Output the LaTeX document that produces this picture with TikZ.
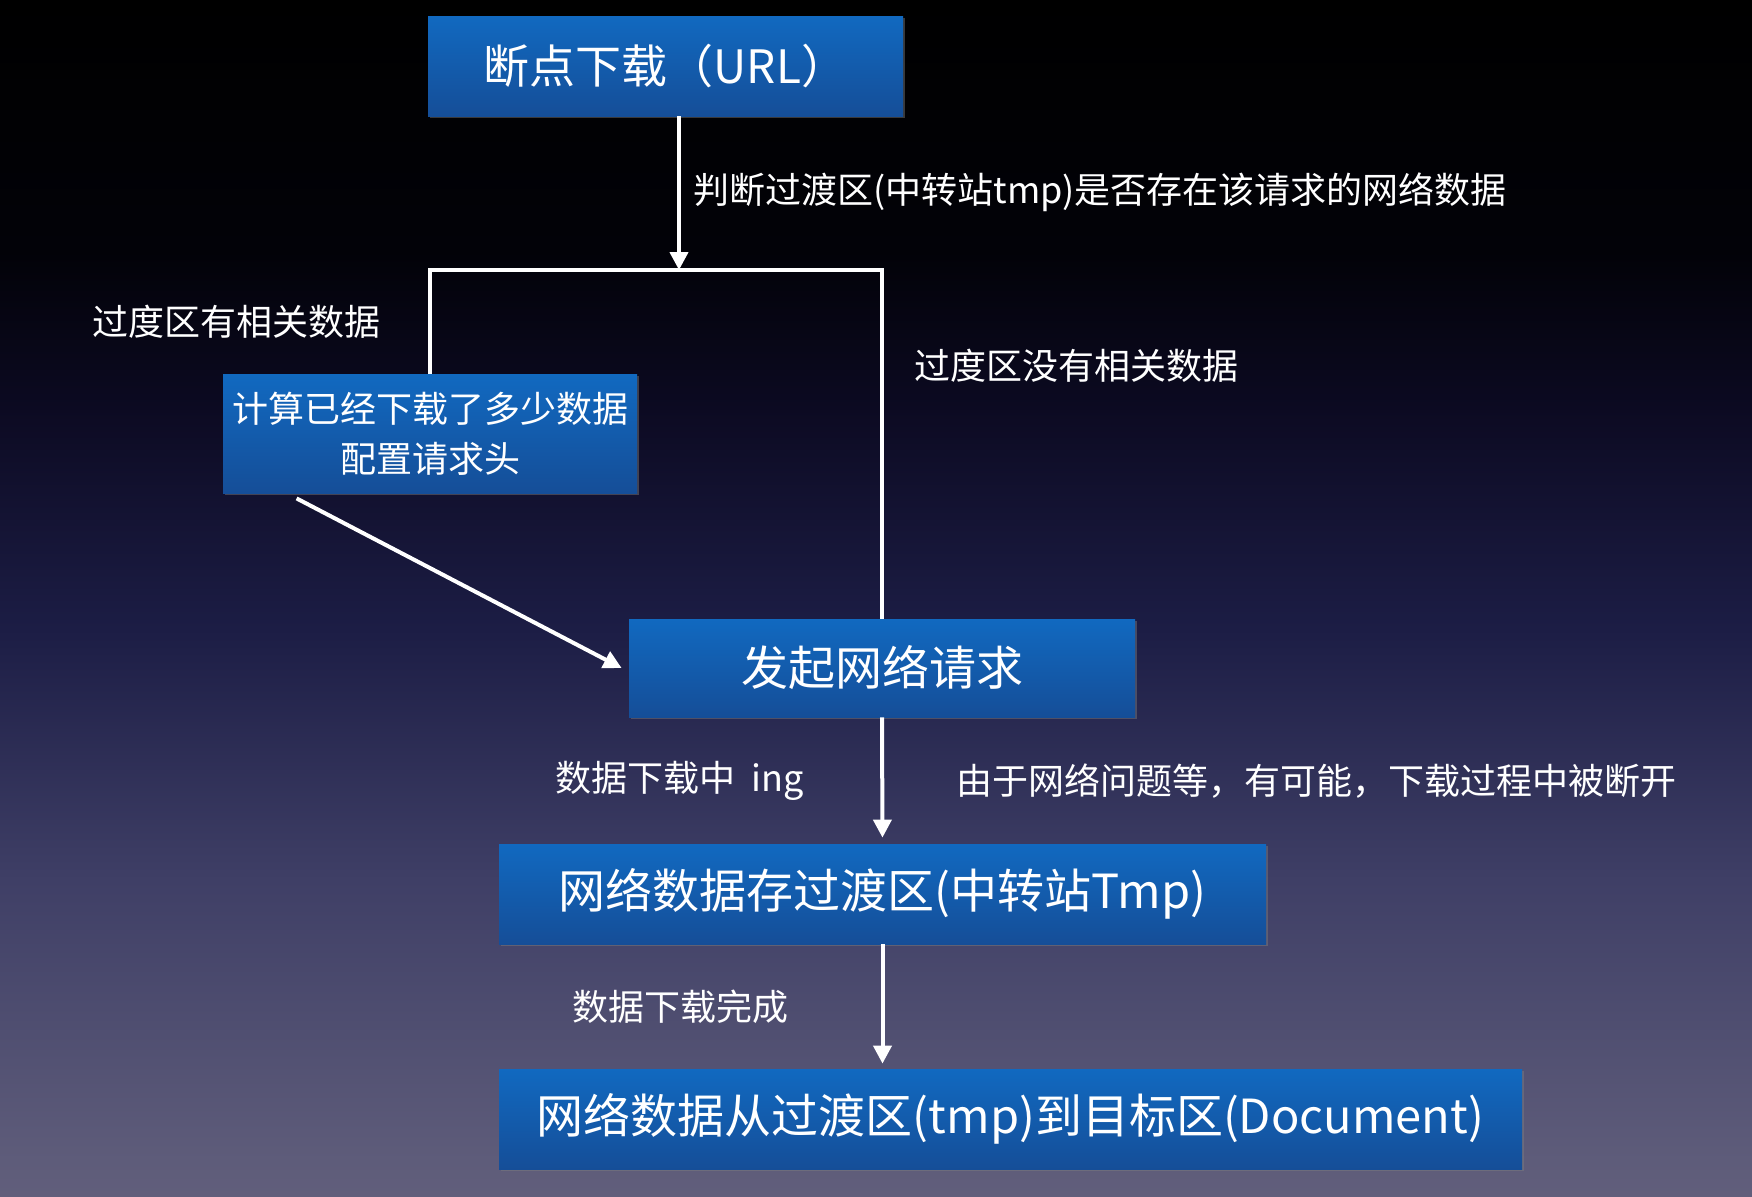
\documentclass[tikz,border=0pt]{standalone}
\usepackage{fontspec}
\setmainfont{Noto Sans CJK SC}
\usetikzlibrary{arrows.meta,positioning,calc,shadows}
\definecolor{skybot}{RGB}{97,94,123}
\definecolor{skylow}{RGB}{94,92,122}
\definecolor{skymid}{RGB}{63,63,102}
\definecolor{skydeep}{RGB}{28,29,69}
\definecolor{skynight}{RGB}{12,10,34}
\definecolor{skyhigh}{RGB}{2,2,8}
\definecolor{boxtop}{RGB}{17,105,192}
\definecolor{boxbot}{RGB}{21,78,152}
\pgfdeclareverticalshading{nightsky}{100bp}{color(0bp)=(skybot); color(25bp)=(skybot);
  color(26.5bp)=(skylow); color(38.2bp)=(skymid); color(48.7bp)=(skydeep);
  color(57.9bp)=(skynight); color(64.5bp)=(skyhigh); color(75bp)=(black); color(100bp)=(black)}

\begin{document}
\begin{tikzpicture}[x=0.5pt,y=-0.5pt,
  every node/.style={text=white,inner sep=0pt},
  stepbox/.style={rectangle,top color=boxtop,bottom color=boxbot,draw=none,
    drop shadow={opacity=0.45,shadow xshift=0.8pt,shadow yshift=-1.2pt},
    font=\fontsize{23.5}{28}\selectfont},
  note/.style={anchor=west,font=\fontsize{18}{22}\selectfont},
  wire/.style={white,line width=2pt},
  flow/.style={wire,-{Triangle[length=9pt,width=9pt]}}]
  % background
  \useasboundingbox (0,0) rectangle (1752,1196);
  \shade[shading=nightsky] (0,0) rectangle (1752,1196);

  % steps
  \node[stepbox,minimum width=237.5pt,minimum height=50pt,
    font=\fontsize{23}{28}\selectfont] (start) at (665.5,66) {断点下载（URL）};
  \node[stepbox,minimum width=207pt,minimum height=59.5pt,align=center,
    font=\fontsize{18}{25}\selectfont] (calc) at (430,433.5)
    {计算已经下载了多少数据\\配置请求头};
  \node[stepbox,minimum width=253pt,minimum height=49pt] (req) at (882,668) {发起网络请求};
  \node[stepbox,minimum width=383.5pt,minimum height=50pt] (tmp) at (882.5,894)
    {网络数据存过渡区(中转站Tmp)};
  \node[stepbox,minimum width=511.5pt,minimum height=50pt] (doc) at (1010.5,1119)
    {网络数据从过渡区(tmp)到目标区(Document)};

  % connectors
  \coordinate (fork) at (679,270);
  \draw[flow] (start.south -| fork) -- (fork);
  \draw[wire] (calc.north) |- (fork) -| (req.north);
  \draw[flow] ([shift={(74,5)}]calc.south west) -- ([xshift=-3.5pt]req.west);
  \draw[flow,shorten >=3pt] (req.south) -- (tmp.north);
  \draw[flow,shorten >=2.5pt] (tmp.south) -- (doc.north -| tmp.south);

  % labels
  \node[note] (check) at (693,192) {判断过渡区(中转站tmp)是否存在该请求的网络数据};
  \node[note] (hit) at (92,322) {过度区有相关数据};
  \node[note] (miss) at (914,366) {过度区没有相关数据};
  \node[note] (loading) at (555,781) {数据下载中\ \ ing};
  \node[note] (broken) at (956,781) {由于网络问题等，有可能，下载过程中被断开};
  \node[note] (finish) at (572,1007) {数据下载完成};
\end{tikzpicture}
\end{document}
